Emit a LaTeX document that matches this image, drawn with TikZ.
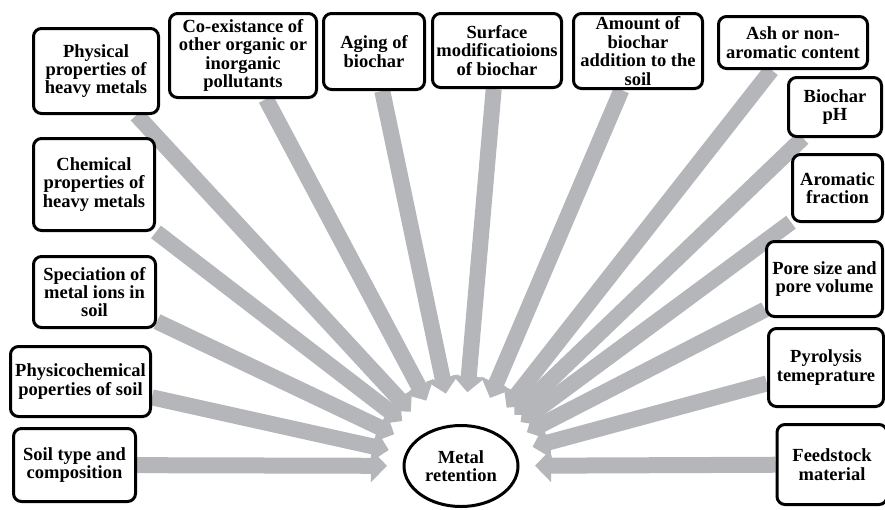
\documentclass[tikz,border=0pt]{standalone}
\usepackage{fontspec}
\setmainfont{Liberation Serif}
\usetikzlibrary{arrows.meta,shapes.geometric,calc}
\definecolor{arrgray}{RGB}{181,182,186}
\pgfdeclarelayer{bg}
\pgfsetlayers{bg,main}
\begin{document}
\begin{tikzpicture}[x=1pt,y=-1pt,
  box/.style={draw=black, line width=3pt, rounded corners=8pt, fill=white, align=center, inner sep=0pt,
    font=\bfseries\fontsize{18.5}{18.4}\selectfont},
  arr/.style={draw=arrgray, line width=16pt, -{Triangle[width=32pt,length=16pt]}},
]
\useasboundingbox (0,0) rectangle (885,509);
% left column
\node[box, minimum width=125, minimum height=85] (phys) at (96,71) {Physical\\properties of\\heavy metals};
\node[box, minimum width=121, minimum height=92] (chem) at (94,184.5) {Chemical\\properties of\\heavy metals};
\node[box, minimum width=122, minimum height=71] (spec) at (94.5,292) {Speciation of\\metal ions in\\soil};
\node[box, minimum width=140, minimum height=70] (pchem) at (80.5,381.5) {Physicochemical\\poperties of soil};
\node[box, minimum width=122, minimum height=73] (soil) at (74.5,465) {Soil type and\\composition};
% top row
\node[box, minimum width=147, minimum height=84] (coex) at (243,55.5) {Co-existance of\\other organic or\\inorganic\\pollutants};
\node[box, minimum width=101, minimum height=76] (aging) at (374,51.5) {Aging of\\biochar};
\node[box, minimum width=129, minimum height=74] (surf) at (497,50.5) {Surface\\modificatioions\\of biochar};
\node[box, minimum width=129, minimum height=75] (amount) at (638,51) {Amount of\\biochar\\addition to the\\soil};
\node[box, minimum width=149, minimum height=52] (ash) at (793,42.5) {Ash or non-\\aromatic content};
% right column
\node[box, minimum width=93, minimum height=59] (ph) at (835,107) {Biochar\\pH};
\node[box, minimum width=90, minimum height=67] (arom) at (837.5,188) {Aromatic\\fraction};
\node[box, minimum width=116, minimum height=75] (pore) at (824.5,279) {Pore size and\\pore volume};
\node[box, minimum width=115, minimum height=78] (pyro) at (826,367.5) {Pyrolysis\\temeprature};
\node[box, minimum width=110, minimum height=80] (feed) at (832,464.5) {Feedstock\\material};
% centre
\node[ellipse, draw=black, line width=3pt, fill=white, minimum width=114, minimum height=81, inner sep=0pt, align=center,
  font=\bfseries\fontsize{18.5}{18.4}\selectfont] (metal) at (461,466) {Metal\\retention};
% arrows
\begin{pgfonlayer}{bg}
\foreach \b in {phys,chem,spec,pchem,soil,coex,aging,surf,amount,ash,ph,arom,pore,pyro,feed}{
  \draw[arr] (\b) -- ($(metal.center)!74pt!(\b.center)$);
}
\end{pgfonlayer}
\end{tikzpicture}
\end{document}
